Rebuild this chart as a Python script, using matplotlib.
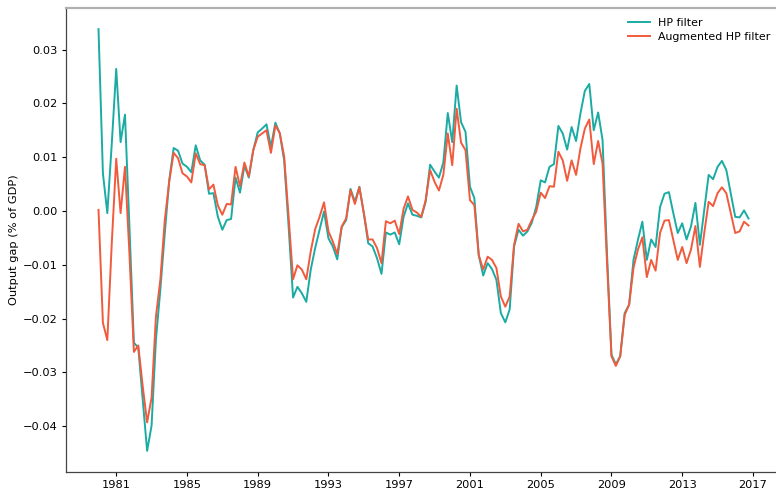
import matplotlib
matplotlib.use("Agg")
import matplotlib.pyplot as plt
import matplotlib.dates as mdates
import pandas as pd

# quarterly output gap estimates, 1980Q1 - 2016Q4
hp_filter = [
    0.0338, 0.0070, -0.0004, 0.0125,
    0.0264, 0.0128, 0.0179, -0.0030,
    -0.0245, -0.0254, -0.0350, -0.0446,
    -0.0399, -0.0239, -0.0146, -0.0041,
    0.0057, 0.0117, 0.0112, 0.0088,
    0.0082, 0.0072, 0.0122, 0.0094,
    0.0086, 0.0032, 0.0033, -0.0011,
    -0.0035, -0.0017, -0.0015, 0.0062,
    0.0034, 0.0084, 0.0062, 0.0113,
    0.0146, 0.0153, 0.0161, 0.0119,
    0.0164, 0.0144, 0.0094, -0.0029,
    -0.0161, -0.0141, -0.0153, -0.0169,
    -0.0109, -0.0069, -0.0035, -0.0001,
    -0.0051, -0.0066, -0.0090, -0.0030,
    -0.0017, 0.0041, 0.0017, 0.0045,
    -0.0004, -0.0060, -0.0066, -0.0088,
    -0.0117, -0.0040, -0.0044, -0.0040,
    -0.0062, -0.0011, 0.0014, -0.0007,
    -0.0009, -0.0012, 0.0017, 0.0086,
    0.0073, 0.0062, 0.0090, 0.0182,
    0.0128, 0.0233, 0.0165, 0.0147,
    0.0045, 0.0024, -0.0082, -0.0120,
    -0.0097, -0.0108, -0.0128, -0.0190,
    -0.0207, -0.0183, -0.0066, -0.0035,
    -0.0046, -0.0038, -0.0022, 0.0008,
    0.0057, 0.0053, 0.0082, 0.0087,
    0.0158, 0.0144, 0.0114, 0.0156,
    0.0130, 0.0181, 0.0223, 0.0236,
    0.0150, 0.0183, 0.0132, -0.0080,
    -0.0267, -0.0285, -0.0270, -0.0190,
    -0.0174, -0.0091, -0.0054, -0.0020,
    -0.0091, -0.0053, -0.0067, 0.0007,
    0.0032, 0.0035, -0.0004, -0.0041,
    -0.0023, -0.0053, -0.0029, 0.0015,
    -0.0063, 0.0002, 0.0067, 0.0059,
    0.0082, 0.0093, 0.0076, 0.0033,
    -0.0011, -0.0012, 0.0001, -0.0014,
]

augmented_hp = [
    0.0002, -0.0208, -0.0240, -0.0060,
    0.0097, -0.0004, 0.0082, -0.0080,
    -0.0262, -0.0250, -0.0325, -0.0393,
    -0.0347, -0.0196, -0.0128, -0.0017,
    0.0055, 0.0108, 0.0098, 0.0070,
    0.0064, 0.0053, 0.0107, 0.0087,
    0.0085, 0.0040, 0.0049, 0.0010,
    -0.0007, 0.0013, 0.0012, 0.0082,
    0.0046, 0.0090, 0.0064, 0.0113,
    0.0138, 0.0144, 0.0150, 0.0108,
    0.0159, 0.0145, 0.0101, -0.0011,
    -0.0127, -0.0101, -0.0109, -0.0127,
    -0.0075, -0.0034, -0.0011, 0.0016,
    -0.0038, -0.0057, -0.0080, -0.0029,
    -0.0014, 0.0039, 0.0013, 0.0044,
    -0.0004, -0.0053, -0.0053, -0.0069,
    -0.0097, -0.0019, -0.0023, -0.0018,
    -0.0043, 0.0004, 0.0027, 0.0002,
    -0.0003, -0.0011, 0.0020, 0.0076,
    0.0054, 0.0038, 0.0067, 0.0144,
    0.0085, 0.0190, 0.0127, 0.0113,
    0.0020, 0.0011, -0.0082, -0.0109,
    -0.0085, -0.0091, -0.0106, -0.0159,
    -0.0178, -0.0159, -0.0063, -0.0024,
    -0.0038, -0.0035, -0.0017, -0.0001,
    0.0034, 0.0024, 0.0046, 0.0045,
    0.0110, 0.0094, 0.0056, 0.0094,
    0.0067, 0.0116, 0.0153, 0.0170,
    0.0087, 0.0130, 0.0088, -0.0095,
    -0.0270, -0.0288, -0.0270, -0.0193,
    -0.0174, -0.0106, -0.0072, -0.0049,
    -0.0123, -0.0091, -0.0111, -0.0041,
    -0.0018, -0.0017, -0.0054, -0.0091,
    -0.0067, -0.0097, -0.0072, -0.0028,
    -0.0104, -0.0041, 0.0017, 0.0009,
    0.0033, 0.0044, 0.0033, -0.0004,
    -0.0041, -0.0038, -0.0020, -0.0027,
]

dates = pd.date_range("1980-01-01", periods=len(hp_filter), freq="QS")
tick_years = list(range(1981, 2018, 4))

plt.rcParams.update({
    "font.size": 8.2,
    "axes.linewidth": 0.9,
    "xtick.major.size": 3.0,
    "ytick.major.size": 3.0,
    "xtick.major.pad": 2.8,
    "ytick.major.pad": 2.8,
})

fig = plt.figure(figsize=(7.76, 4.93), dpi=100)
# the original picture is cut off on the right, so the axes run past the edge
ax = fig.add_axes([66 / 776, 21 / 493, 715 / 776, 464 / 493])

ax.plot(dates, hp_filter, color="#1aaba3", lw=1.4, label="HP filter")
ax.plot(dates, augmented_hp, color="#f15a3c", lw=1.4, label="Augmented HP filter")

ax.set_xticks(pd.to_datetime([f"{y}-01-01" for y in tick_years]))
ax.xaxis.set_major_formatter(mdates.DateFormatter("%Y"))
ax.set_ylabel("Output gap (% of GDP)", labelpad=3)

ax.spines["top"].set_color("#b0b0b0")
ax.spines["top"].set_linewidth(1.6)
for side in ("left", "bottom"):
    ax.spines[side].set_color("#444444")

fig.legend(loc="upper right", bbox_to_anchor=(1.006, 0.984), frameon=False,
           fontsize=7.9, handlelength=2.0, labelspacing=0.4)

fig.savefig("out.png", dpi=100)
